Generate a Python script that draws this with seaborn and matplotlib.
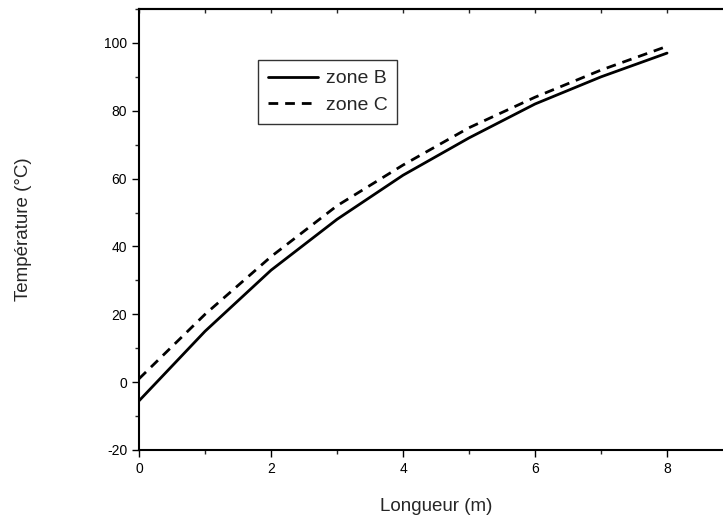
# Température le long de la longueur, zones B et C
import matplotlib
matplotlib.use("Agg")
import matplotlib.pyplot as plt
import seaborn as sns
import pandas as pd
from matplotlib.ticker import MultipleLocator

# Data
longueur = [0, 1, 2, 3, 4, 5, 6, 7, 8]
zone_b = [-5.5, 15, 33, 48, 61, 72, 82, 90, 97]
zone_c = [1, 20, 37, 52, 64, 75, 84, 92, 99]

df = pd.DataFrame({
    "Longueur": longueur * 2,
    "Temp": zone_b + zone_c,
    "zone": ["zone B"] * len(zone_b) + ["zone C"] * len(zone_c),
})

sns.set_style("ticks")
plt.rcParams["font.family"] = ["Liberation Sans", "DejaVu Sans"]
plt.rcParams["axes.unicode_minus"] = False

fig = plt.figure(figsize=(7.23, 5.17), dpi=100)
ax = fig.add_axes([0.1923, 0.1296, 0.8216, 0.853])

sns.lineplot(data=df, x="Longueur", y="Temp", style="zone", color="black",
             linewidth=2, dashes={"zone B": "", "zone C": (3.5, 2.5)}, ax=ax)

ax.set_xlim(0, 9)
ax.set_ylim(-20, 110)
ax.xaxis.set_major_locator(MultipleLocator(2))
ax.xaxis.set_minor_locator(MultipleLocator(1))
ax.yaxis.set_major_locator(MultipleLocator(20))
ax.yaxis.set_minor_locator(MultipleLocator(10))
ax.tick_params(which="major", direction="out", length=5, width=1, labelsize=10, colors="black")
ax.tick_params(which="minor", direction="out", length=3, width=1)
for s in ax.spines.values():
    s.set_linewidth(1.5)
    s.set_color("black")

# small inward ticks on the top edge, no labels
top = ax.secondary_xaxis("top")
top.xaxis.set_major_locator(MultipleLocator(1))
top.tick_params(direction="in", length=3, width=1, labeltop=False)
top.spines["top"].set_linewidth(1.5)

ax.set_xlabel("Longueur (m)", fontsize=13.5, labelpad=16)
ax.set_ylabel("Température (°C)", fontsize=13.5, labelpad=52)

leg = ax.legend(title=None, loc="upper left", bbox_to_anchor=(0.2, 0.884),
                borderaxespad=0, fontsize=14, frameon=True, fancybox=False,
                handlelength=2.6, handletextpad=0.4, borderpad=0.5,
                labelspacing=0.45)
leg.get_frame().set_edgecolor("black")
leg.get_frame().set_linewidth(1)

fig.savefig("out.png", dpi=100)
plt.close()
